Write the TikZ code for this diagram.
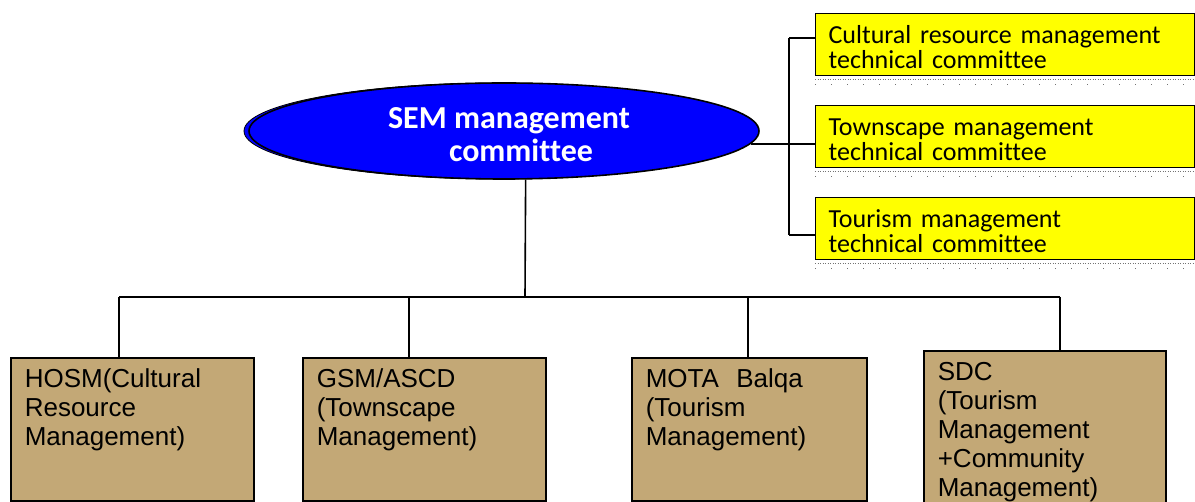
\documentclass[tikz,border=0pt]{standalone}
\usepackage{tikz}
\usetikzlibrary{arrows.meta,positioning,shapes.geometric}
\usepackage{xcolor}
\usepackage{fontspec}
\setmainfont{Liberation Sans}
\newfontfamily\calibri[Ligatures=NoCommon]{Carlito}
\definecolor{semblue}{RGB}{0,0,255}
\definecolor{tcyellow}{RGB}{255,255,0}
\definecolor{orgtan}{RGB}{195,168,118}

\begin{document}
\begin{tikzpicture}[x=1pt,y=-1pt]
    \tikzstyle{link} = [draw=black, line width=1.6pt];
    \tikzstyle{sem} = [shape=ellipse, fill=semblue, draw=black, line width=1.6pt, minimum width=510pt, minimum height=96pt, inner sep=0pt];
    \tikzstyle{semtext} = [text=white, align=center, inner sep=0pt, font=\calibri\bfseries\fontsize{32}{33}\selectfont];
    \tikzstyle{techbox} = [shape=rectangle, fill=tcyellow, draw=black, line width=1.2pt, anchor=north west, text width=353pt, inner xsep=13pt, inner ysep=11pt, text height=19pt, text depth=21pt, align=left, font=\calibri\fontsize{26}{25}\selectfont];
    \tikzstyle{orgbox} = [shape=rectangle, fill=orgtan, draw=black, line width=1.6pt, anchor=north west, inner xsep=14pt, inner ysep=10pt, text height=20pt, align=left, font=\fontsize{26}{29}\selectfont];
    \tikzstyle{shadowdots} = [draw=black!55, line width=1pt, dash pattern=on 1pt off 1.5pt];

    \useasboundingbox (0,0) rectangle (1195,502);
    \clip (0,0) rectangle (1195,502);

    % management committee (with its offset outline behind)
    \node[sem, line width=0.8pt] (semback) at (499,131) {};
    \node[sem] (sem) at (504,131) {};
    \node[semtext] (semlabel) at (509,135) {SEM management\\\hspace*{24pt}committee};

    % technical committees
    \node[techbox] (cult) at (815,13) {Cultural resource management\\technical committee};
    \node[techbox] (town) at (815,105) {Townscape management\\technical committee};
    \node[techbox] (tour) at (815,197) {Tourism management\\technical committee};

    \foreach \tc in {cult,town,tour} {
        \draw[shadowdots] ([yshift=-3pt]\tc.south west) -- ([yshift=-3pt]\tc.south east);
        \draw[shadowdots, dash pattern=on 1pt off 15pt] ([yshift=-8pt]\tc.south west) -- ([yshift=-8pt]\tc.south east);
    }

    % member organisations
    \node[orgbox, text width=215pt, text depth=103pt] (hosm) at (10,357) {HOSM(Cultural\\Resource\\Management)};
    \node[orgbox, text width=215pt, text depth=103pt] (gsm) at (302,357) {GSM/ASCD\\(Townscape\\Management)};
    \node[orgbox, text width=207pt, text depth=103pt] (mota) at (631,357) {MOTA~~Balqa\\(Tourism\\Management)};
    \node[orgbox, text width=214pt, text depth=120pt] (sdc) at (923,350) {SDC\\(Tourism\\Management\\+Community\\Management)};

    \coordinate (bus) at (525,297);
    \coordinate (d1) at (119,297);
    \coordinate (d2) at (409,297);
    \coordinate (d3) at (748,297);
    \coordinate (d4) at (1060,297);
    \coordinate (r1) at (789,38);
    \coordinate (r2) at (789,144);
    \coordinate (r3) at (789,235);

    \draw[link] (sem.-66) -- (bus);
    \draw[link] (d1) -- (d4);
    \draw[link]
        (d1) edge (d1 |- hosm.north)
        (d2) edge (d2 |- gsm.north)
        (d3) edge (d3 |- mota.north)
        (d4) edge (d4 |- sdc.north)
    ;

    \draw[link] (sem.-3) -- (sem.-3 -| r2);
    \draw[link] (r1) -- (r3);
    \draw[link]
        (r1) edge (r1 -| cult.west)
        (r2) edge (r2 -| town.west)
        (r3) edge (r3 -| tour.west)
    ;
\end{tikzpicture}
\end{document}
